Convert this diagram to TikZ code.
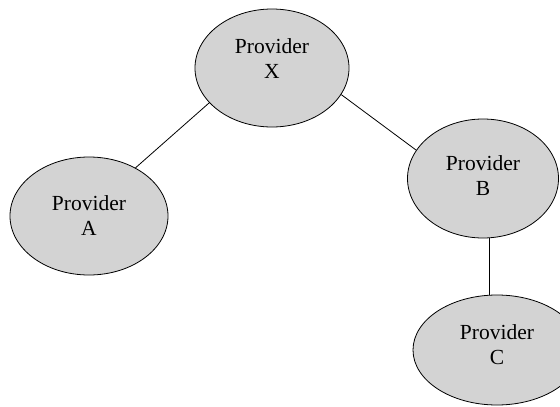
\documentclass[tikz,border=0pt]{standalone}
\usepackage{fontspec}
\setmainfont{Liberation Serif}
\usetikzlibrary{shapes.geometric}
\definecolor{provfill}{RGB}{211,211,211}
\newcommand{\provtext}[2]{\raisebox{#1}[\height][\depth]{\begin{tabular}{@{}c@{}}Provider\\#2\end{tabular}}}
\tikzset{
  prov/.style={ellipse, draw=black, line width=0.8pt, fill=provfill, inner sep=0pt,
    font=\fontsize{21.5}{25}\selectfont},
  conn/.style={draw=black, line width=0.8pt}
}
\begin{document}
\begin{tikzpicture}[x=1pt,y=-1pt]
\useasboundingbox (0,0) rectangle (560,407);
\begin{scope}
\clip (0,0) rectangle (560,407);
\node[prov, minimum width=154pt, minimum height=118pt] (X) at (272,68) {\provtext{7pt}{X}};
\node[prov, minimum width=158pt, minimum height=118pt] (A) at (89,216) {\provtext{-2pt}{A}};
\node[prov, minimum width=151pt, minimum height=119pt] (B) at (483,178.5) {\provtext{1pt}{B}};
\node[prov, minimum width=168pt, minimum height=110pt] (C) at (497,350) {\provtext{3pt}{C}};
\draw[conn] (X.209) -- (A.46);
\draw[conn] (X.-21) -- (B.157);
\draw[conn] (B.-84) -- (B.-84 |- C.north);
\end{scope}
\end{tikzpicture}
\end{document}
